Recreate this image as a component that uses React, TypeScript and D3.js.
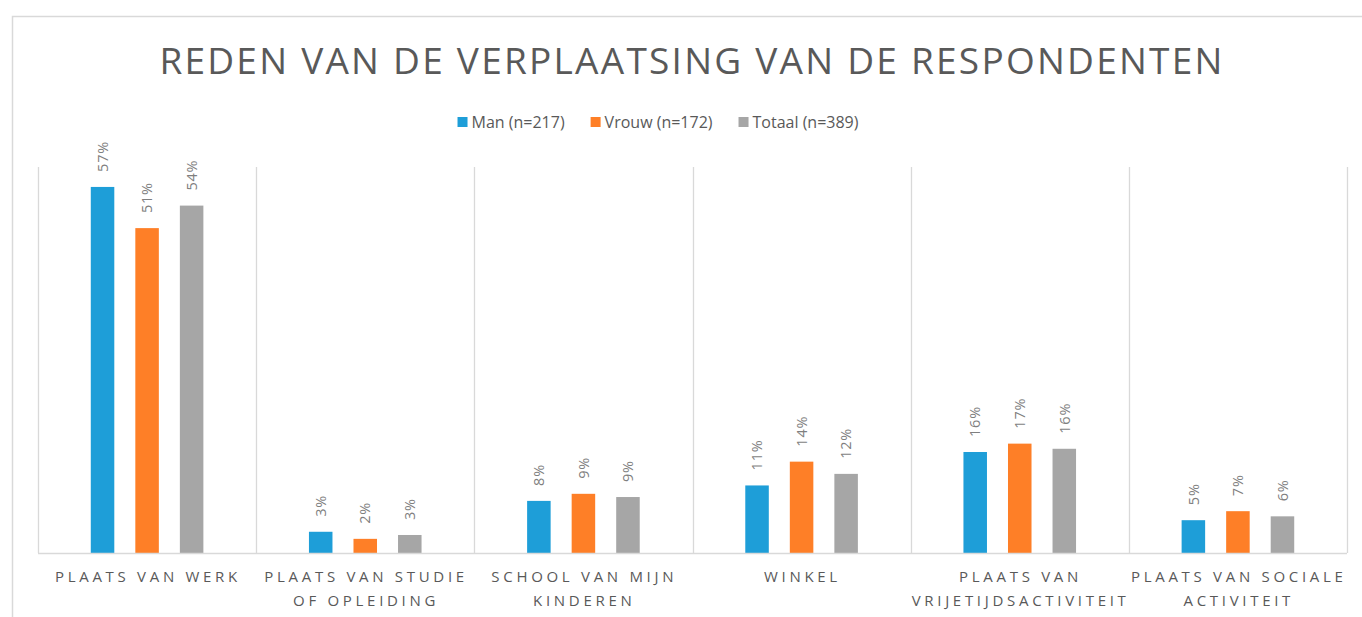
import React from "react";
import * as d3 from "d3";

const title = "REDEN VAN DE VERPLAATSING VAN DE RESPONDENTEN";
const categories: string[][] = [
  ["PLAATS VAN WERK"],
  ["PLAATS VAN STUDIE", "OF OPLEIDING"],
  ["SCHOOL VAN MIJN", "KINDEREN"],
  ["WINKEL"],
  ["PLAATS VAN", "VRIJETIJDSACTIVITEIT"],
  ["PLAATS VAN SOCIALE", "ACTIVITEIT"],
];
const seriesNames = ["Man (n=217)", "Vrouw (n=172)", "Totaal (n=389)"];
const seriesColors = ["#1E9ED8", "#FE7F27", "#A6A6A6"];
const manValues = [56.9, 3.3, 8.1, 10.5, 15.7, 5.1];
const vrouwValues = [50.5, 2.2, 9.2, 14.2, 17.0, 6.5];
const totaalValues = [54.0, 2.8, 8.7, 12.3, 16.2, 5.7];
const yDomainMax = 60;

const seriesValues = [manValues, vrouwValues, totaalValues];

const W = 1362;
const H = 617;
const plot = { left: 38, right: 1347, top: 167, bottom: 553 };
const FONT = "'Open Sans', sans-serif";
const TEXT = "#595959";
const GRID = "#D9D9D9";

function measure(text: string, size: number, spacing: number) {
  const c = document.createElement("canvas").getContext("2d")!;
  c.font = `${size}px 'Open Sans'`;
  return c.measureText(text).width + spacing * text.length;
}

export default function App() {
  const x0 = d3
    .scaleBand<number>()
    .domain(categories.map((_, i) => i))
    .range([plot.left, plot.right]);
  const x1 = d3
    .scaleBand<number>()
    .domain(seriesNames.map((_, i) => i))
    .range([0, x0.bandwidth()])
    .paddingInner(0.472)
    .paddingOuter(1.185);
  const y = d3.scaleLinear().domain([0, yDomainMax]).range([plot.bottom, plot.top]);

  // legend layout
  const legendSize = 16;
  const sq = 10;
  const gapText = 4;
  const gapItem = 26;
  const widths = seriesNames.map((n) => sq + gapText + measure(n, legendSize, 0));
  const total = d3.sum(widths) + gapItem * (seriesNames.length - 1);
  let cursor = 658 - total / 2;
  const legendX = widths.map((w) => {
    const p = cursor;
    cursor += w + gapItem;
    return p;
  });

  const catSpacing = 3.7;

  return (
    <svg
      width={W}
      height={H}
      style={{ position: "absolute", left: 0, top: 0, background: "#fff" }}
      fontFamily={FONT}
    >
      <rect x={12.5} y={16.5} width={1400} height={700} fill="#fff" stroke={GRID} strokeWidth={1.5} />
      <text
        x={692}
        y={74}
        textAnchor="middle"
        fontSize={37}
        fill={TEXT}
        letterSpacing={2.25}
      >
        {title}
      </text>

      {seriesNames.map((n, i) => (
        <g key={n} transform={`translate(${legendX[i]},0)`}>
          <rect x={0} y={117} width={sq} height={sq} fill={seriesColors[i]} />
          <text x={sq + gapText} y={128} fontSize={legendSize} fill={TEXT}>
            {n}
          </text>
        </g>
      ))}

      {/* separators */}
      {d3.range(categories.length + 1).map((i) => {
        const xx = Math.round(plot.left + i * x0.step()) + 0.5;
        return <line key={i} x1={xx} x2={xx} y1={plot.top} y2={plot.bottom} stroke={GRID} strokeWidth={1.3} />;
      })}

      {categories.map((cat, ci) => (
        <g key={ci} transform={`translate(${x0(ci)},0)`}>
          {seriesValues.map((vals, si) => {
            const v = vals[ci];
            const bx = x1(si)!;
            const cx = bx + x1.bandwidth() / 2;
            return (
              <g key={si}>
                <rect x={bx} y={y(v)} width={x1.bandwidth()} height={plot.bottom - y(v)} fill={seriesColors[si]} />
                <text
                  transform={`translate(${cx},${y(v) - 15}) rotate(-90)`}
                  dy="0.36em"
                  fontSize={14.5}
                  fill="#7F7F7F"
                  letterSpacing={0.8}
                >
                  {`${Math.round(v)}%`}
                </text>
              </g>
            );
          })}
          {cat.map((line, li) => (
            <text
              key={li}
              x={x0.bandwidth() / 2 + catSpacing / 2 - 1}
              y={582 + li * 24}
              textAnchor="middle"
              fontSize={15}
              fill={TEXT}
              letterSpacing={catSpacing}
            >
              {line}
            </text>
          ))}
        </g>
      ))}

      <line x1={plot.left} x2={plot.right} y1={plot.bottom + 0.5} y2={plot.bottom + 0.5} stroke={GRID} strokeWidth={1.5} />
    </svg>
  );
}
